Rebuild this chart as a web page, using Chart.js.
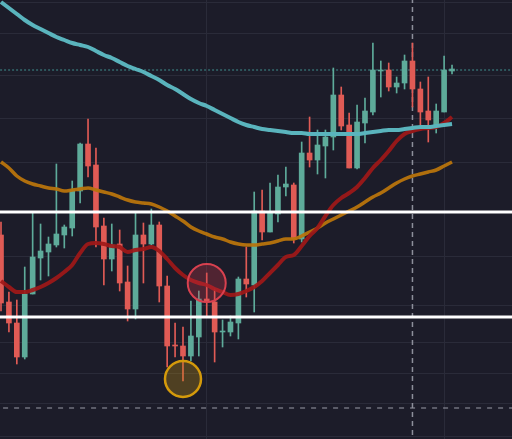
<!DOCTYPE html>
<html><head><meta charset="utf-8">
<script src="https://cdn.jsdelivr.net/npm/chart.js@4"></script>
<style>html,body{margin:0;padding:0;background:#1c1c29;overflow:hidden}canvas{display:block}</style>
</head><body><canvas id="c" width="512" height="439"></canvas>
<script>
// ---- data (price units) ----
const candleIndex = Array.from({length: 58}, (_, i) => i);
const opens  = [204,137,116,82,145,181,187,194,204,211,248,295,274,213,180,195,157,130,204,195,214,153,94,93,83,102,140,137,107,107,116,160,154,228,207,225,252,254,200,286,279,293,302,344,314,271,316,327,368,369,352,356,378,350,328,314,327,368];
const highs  = [217,147,139,172,226,215,202,275,214,258,296,320,291,221,215,209,173,226,216,230,217,163,116,112,138,148,166,150,119,123,162,192,247,249,256,264,272,256,297,322,309,309,371,352,326,334,341,396,378,376,362,384,396,357,362,335,383,374];
const lows   = [128,107,75,80,145,159,163,192,191,203,236,262,192,154,168,148,118,120,156,194,137,72,82,58,78,83,122,77,92,103,100,142,127,199,207,217,243,196,197,272,265,261,289,309,271,270,296,324,342,348,346,350,332,312,297,306,327,365];
const closes = [136,116,82,145,182,188,195,205,212,249,295,273,212,180,194,156,130,204,195,214,153,93,93,83,103,140,137,107,108,117,160,155,228,207,226,252,255,200,286,279,294,302,344,313,271,317,328,369,369,352,356,378,350,327,319,328,369,370];
const maSlow = [437,431,425,419,414,410,406,402,399,396,394,392,388,384,381,377,373,370,367,363,359,354,350,345,340,336,333,329,325,321,317,314,312,310,309,308,307,306,306,305,305,305,305,305,305,305,306,307,308,309,309,310,311,312,312,313,314,315];
const maMid  = [277,271,263,258,255,253,251,250,248,249,250,251,249,247,245,242,239,237,236,235,232,228,223,218,212,208,205,202,200,197,195,194,194,195,196,198,200,200,203,207,211,216,220,224,228,232,237,242,246,251,256,260,263,265,267,269,273,277];
const maFast = [158,152,147,147,149,152,156,161,167,174,186,195,196,195,193,192,187,189,190,192,188,180,171,164,159,156,154,150,147,144,145,148,152,158,166,174,182,184,193,203,211,223,234,241,246,252,261,271,279,288,298,305,308,310,311,312,316,322];
const levelLines = [227, 122];
const lastPriceLevel = 369;
const lowerDashedLevel = 31;
const markedBar = 52;
const redMarker = [26, 156];
const yellowMarker = [23, 60];
const yGridValues = [436,406,364,320,276,227,183,134,97,66,36,3];
const xGridValues = [-4,26,56];
const xMin = -0.1264, xMax = 64.58, yMin = 0, yMax = 439;

// ---- styling ----
const UP = '#5eab9a', DOWN = '#e05b55';
const candleColors = candleIndex.map(i => closes[i] >= opens[i] ? UP : DOWN);
const GRID = '#2a2b39';

function hLine(v, color, width, dash, order) {
  return { type: 'line', data: [{x: xMin - 1, y: v}, {x: xMax + 1, y: v}], borderColor: color,
    borderWidth: width, borderDash: dash, pointRadius: 0, order };
}

const chart = new Chart(document.getElementById('c'), {
  type: 'bar',
  data: {
    datasets: [
      hLine(lowerDashedLevel, '#9a9ca8', 1, [5, 6], 20),
      hLine(lastPriceLevel, '#3e8e8e', 1, [2, 2], 19),
      { type: 'line', data: [{x: markedBar, y: yMin - 5}, {x: markedBar, y: yMax + 5}], borderColor: '#8d8f9b',
        borderWidth: 1.5, borderDash: [5, 4], pointRadius: 0, order: 18 },
      { type: 'bar', data: candleIndex.map(i => ({x: i, y: [lows[i], highs[i]]})), backgroundColor: candleColors,
        barThickness: 1, grouped: false, order: 12 },
      { type: 'bar', data: candleIndex.map(i => ({x: i, y: [opens[i], closes[i]]})), backgroundColor: candleColors,
        barThickness: 5, minBarLength: 1, grouped: false, order: 11 },
      { type: 'line', data: candleIndex.map(i => ({x: i, y: maMid[i]})), borderColor: 'rgba(184,116,12,0.95)',
        borderWidth: 3.5, pointRadius: 0, cubicInterpolationMode: 'monotone', order: 6 },
      { type: 'line', data: candleIndex.map(i => ({x: i, y: maFast[i]})), borderColor: 'rgba(160,24,24,0.92)',
        borderWidth: 4, pointRadius: 0, cubicInterpolationMode: 'monotone', order: 5 },
      { type: 'line', data: candleIndex.map(i => ({x: i, y: maSlow[i]})), borderColor: '#5ab4bd',
        borderWidth: 4, pointRadius: 0, cubicInterpolationMode: 'monotone', order: 4 },
      hLine(levelLines[0], '#ffffff', 3, [], 3),
      hLine(levelLines[1], '#ffffff', 3, [], 3),
      { type: 'line', showLine: false, data: [{x: redMarker[0], y: redMarker[1]}], pointRadius: 19,
        pointBackgroundColor: 'rgba(214,58,76,0.28)', pointBorderColor: '#d9414f', pointBorderWidth: 2, order: 1 },
      { type: 'line', showLine: false, data: [{x: yellowMarker[0], y: yellowMarker[1]}], pointRadius: 18,
        pointBackgroundColor: 'rgba(200,150,20,0.3)', pointBorderColor: '#d49a0b', pointBorderWidth: 2.5, order: 1 }
    ]
  },
  options: {
    responsive: false, animation: false, devicePixelRatio: 1,
    layout: { padding: 0, autoPadding: false },
    plugins: { legend: { display: false }, tooltip: { enabled: false } },
    scales: {
      x: { type: 'linear', min: xMin, max: xMax, offset: false,
        grid: { color: GRID, offset: false, drawTicks: false }, border: { display: false },
        ticks: { display: false },
        afterBuildTicks: s => { s.ticks = xGridValues.map(v => ({value: v})); },
        afterFit: s => { s.height = 0; } },
      y: { type: 'linear', min: yMin, max: yMax,
        grid: { color: GRID, drawTicks: false }, border: { display: false },
        ticks: { display: false },
        afterBuildTicks: s => { s.ticks = yGridValues.map(v => ({value: v})); },
        afterFit: s => { s.width = 0; } }
    }
  }
});
</script></body></html>
